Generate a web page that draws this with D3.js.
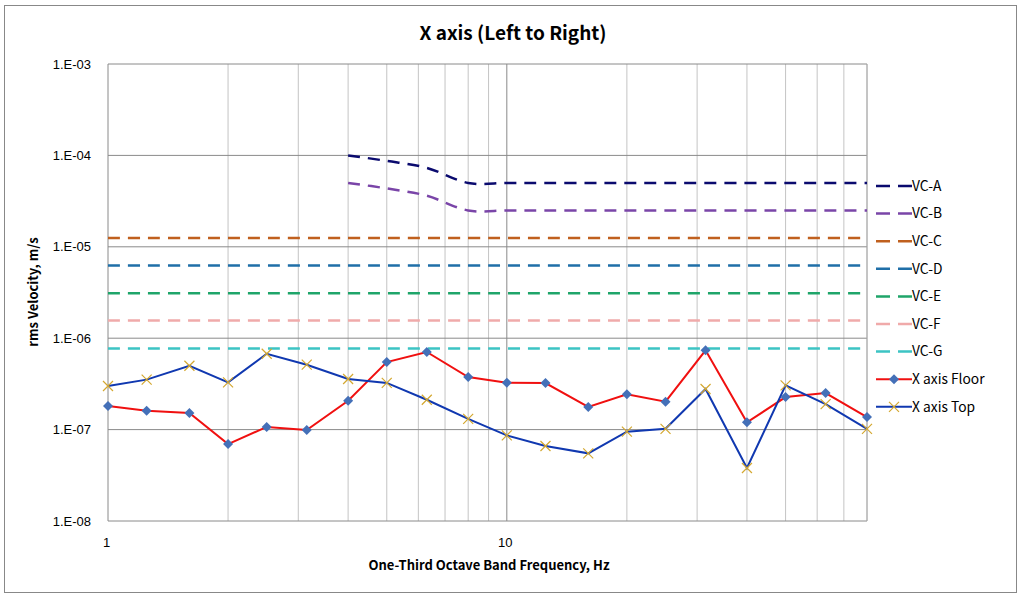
<!DOCTYPE html>
<html>
<head>
<meta charset="utf-8">
<script src="https://cdn.jsdelivr.net/npm/d3@7.9.0/dist/d3.min.js"></script>
<style>
  body { margin: 0; background: #fff; }
  svg { display: block; }
  text { font-family: 'Noto Sans CJK KR', 'Noto Sans', sans-serif; fill: #000; }
  .tick text { font-family: 'Liberation Sans', Arial, sans-serif; font-size: 13px; }
</style>
</head>
<body>
<svg id="chart" width="1028" height="599"></svg>
<script>
// one-third octave band centre frequencies
const freqs = [1, 1.25, 1.6, 2, 2.5, 3.15, 4, 5, 6.3, 8, 10, 12.5, 16, 20, 25, 31.5, 40, 50, 63, 80];
const vcFreqs = [4, 5, 6.3, 8, 10, 12.5, 16, 20, 25, 31.5, 40, 50, 63, 80];

const floorValues = [1.81e-7, 1.61e-7, 1.52e-7, 6.95e-8, 1.07e-7, 9.9e-8, 2.07e-7, 5.48e-7, 7.06e-7, 3.76e-7,
  3.26e-7, 3.23e-7, 1.77e-7, 2.43e-7, 2.02e-7, 7.36e-7, 1.2e-7, 2.27e-7, 2.51e-7, 1.37e-7];
const topValues = [3.0e-7, 3.52e-7, 5.0e-7, 3.29e-7, 6.76e-7, 5.13e-7, 3.58e-7, 3.24e-7, 2.12e-7, 1.31e-7,
  8.65e-8, 6.62e-8, 5.5e-8, 9.5e-8, 1.02e-7, 2.78e-7, 3.8e-8, 3.05e-7, 1.9e-7, 1.02e-7];

const vcA = [1e-4, 8.7e-5, 7.3e-5, 5e-5, 5e-5, 5e-5, 5e-5, 5e-5, 5e-5, 5e-5, 5e-5, 5e-5, 5e-5, 5e-5];
const vcB = [5e-5, 4.35e-5, 3.62e-5, 2.5e-5, 2.5e-5, 2.5e-5, 2.5e-5, 2.5e-5, 2.5e-5, 2.5e-5, 2.5e-5, 2.5e-5, 2.5e-5, 2.5e-5];
const vcFlat = [
  { name: 'VC-C', value: 1.25e-5 },
  { name: 'VC-D', value: 6.25e-6 },
  { name: 'VC-E', value: 3.1e-6 },
  { name: 'VC-F', value: 1.56e-6 },
  { name: 'VC-G', value: 7.7e-7 }
];

const yTicks = [1e-3, 1e-4, 1e-5, 1e-6, 1e-7, 1e-8];
const xTicks = [1, 10];
const xGrid = [1, 2, 3, 4, 5, 6, 7, 8, 9, 10, 20, 30, 40, 50, 60, 70, 80];

const colors = {
  'VC-A': '#0a0a6e', 'VC-B': '#7a45a8', 'VC-C': '#c0601e', 'VC-D': '#1f6fa8',
  'VC-E': '#1fa56a', 'VC-F': '#f0aaaa', 'VC-G': '#3cc4c4',
  floor: '#f01010', top: '#1038b0', diamond: '#4470b8', cross: '#d4a830'
};

const svg = d3.select('#chart');
const plotLeft = 108, plotRight = 867, plotTop = 64, plotBottom = 521;

const x = d3.scaleLog().domain([1, 80]).range([plotLeft, plotRight]);
const y = d3.scaleLog().domain([1e-8, 1e-3]).range([plotBottom, plotTop]);

// outer frame
svg.append('rect')
  .attr('x', 4.5).attr('y', 5.5).attr('width', 1012).attr('height', 587)
  .attr('fill', '#fff').attr('stroke', '#888').attr('stroke-width', 1);

// grid
svg.append('g').selectAll('line').data(xGrid).join('line')
  .attr('x1', (d) => x(d)).attr('x2', (d) => x(d))
  .attr('y1', plotTop).attr('y2', plotBottom)
  .attr('stroke', (d) => (d === 1 || d === 10 ? '#8a8a8a' : '#c4c4c4'))
  .attr('stroke-width', 1);

svg.append('g').selectAll('line').data(yTicks).join('line')
  .attr('x1', plotLeft).attr('x2', plotRight)
  .attr('y1', (d) => y(d)).attr('y2', (d) => y(d))
  .attr('stroke', '#8a8a8a').attr('stroke-width', 1);

svg.append('line')
  .attr('x1', plotRight).attr('x2', plotRight).attr('y1', plotTop).attr('y2', plotBottom)
  .attr('stroke', '#a8a8a8');

// axes
const fmtY = (d) => '1.E-' + String(Math.round(-Math.log10(d))).padStart(2, '0');
const yAxis = svg.append('g')
  .attr('transform', `translate(${plotLeft - 14},0)`)
  .call(d3.axisLeft(y).tickValues(yTicks).tickFormat(fmtY).tickSize(0));
yAxis.select('.domain').remove();

const xAxis = svg.append('g')
  .attr('transform', `translate(0,${plotBottom + 14})`)
  .call(d3.axisBottom(x).tickValues(xTicks).tickFormat(d3.format('d')).tickSize(0));
xAxis.select('.domain').remove();
xAxis.selectAll('text').attr('dx', -2);

// VC criteria lines
const line = d3.line().x((d) => x(d[0])).y((d) => y(d[1]));
const smooth = d3.line().x((d) => x(d[0])).y((d) => y(d[1])).curve(d3.curveCatmullRom.alpha(0));

const vcSeries = [
  { name: 'VC-A', pts: vcFreqs.map((f, i) => [f, vcA[i]]) },
  { name: 'VC-B', pts: vcFreqs.map((f, i) => [f, vcB[i]]) },
  ...vcFlat.map((v) => ({ name: v.name, pts: freqs.map((f) => [f, v.value]) }))
];

svg.append('g').selectAll('path').data(vcSeries).join('path')
  .attr('d', (d) => smooth(d.pts))
  .attr('fill', 'none')
  .attr('stroke', (d) => colors[d.name])
  .attr('stroke-width', 2.5)
  .attr('stroke-dasharray', '12 8');

// measured series
const floorPts = freqs.map((f, i) => [f, floorValues[i]]);
const topPts = freqs.map((f, i) => [f, topValues[i]]);

svg.append('path').attr('d', line(floorPts))
  .attr('fill', 'none').attr('stroke', colors.floor).attr('stroke-width', 2);
svg.append('path').attr('d', line(topPts))
  .attr('fill', 'none').attr('stroke', colors.top).attr('stroke-width', 2);

const diamond = 'M0,-5L5,0L0,5L-5,0Z';
const cross = 'M-5,-5L5,5M-5,5L5,-5';

svg.append('g').selectAll('path').data(floorPts).join('path')
  .attr('transform', (d) => `translate(${x(d[0])},${y(d[1])})`)
  .attr('d', diamond).attr('fill', colors.diamond);

svg.append('g').selectAll('path').data(topPts).join('path')
  .attr('transform', (d) => `translate(${x(d[0])},${y(d[1])})`)
  .attr('d', cross).attr('fill', 'none').attr('stroke', colors.cross).attr('stroke-width', 1.2);

// legend
const legendItems = ['VC-A', 'VC-B', 'VC-C', 'VC-D', 'VC-E', 'VC-F', 'VC-G', 'X axis Floor', 'X axis Top'];
const lg = svg.append('g').selectAll('g').data(legendItems).join('g')
  .attr('transform', (d, i) => `translate(876,${186 + i * 27.6})`);

lg.append('line')
  .attr('x1', 0).attr('x2', 36).attr('y1', 0).attr('y2', 0)
  .attr('stroke', (d, i) => (i < 7 ? colors[d] : i === 7 ? colors.floor : colors.top))
  .attr('stroke-width', (d, i) => (i < 7 ? 2.5 : 2))
  .attr('stroke-dasharray', (d, i) => (i < 7 ? '14 8' : null));

lg.filter((d, i) => i === 7).append('path')
  .attr('transform', 'translate(18,0)').attr('d', diamond).attr('fill', colors.diamond);
lg.filter((d, i) => i === 8).append('path')
  .attr('transform', 'translate(18,0)').attr('d', cross)
  .attr('fill', 'none').attr('stroke', colors.cross).attr('stroke-width', 1.2);

lg.append('text')
  .attr('x', 36).attr('y', 0).attr('dy', '0.35em')
  .style('font-size', '13.8px')
  .text((d) => d);

// titles
svg.append('text')
  .attr('x', 513).attr('y', 33).attr('dy', '0.35em')
  .attr('text-anchor', 'middle')
  .style('font-size', '19px').style('font-weight', 'bold')
  .text('X axis (Left to Right)');

svg.append('text')
  .attr('x', 489).attr('y', 565).attr('dy', '0.35em')
  .attr('text-anchor', 'middle')
  .style('font-size', '13px').style('font-weight', 'bold')
  .text('One-Third Octave Band Frequency, Hz');

svg.append('text')
  .attr('transform', 'translate(33,292) rotate(-90)')
  .attr('dy', '0.35em')
  .attr('text-anchor', 'middle')
  .style('font-size', '13px').style('font-weight', 'bold')
  .text('rms Velocity, m/s');
</script>
</body>
</html>
